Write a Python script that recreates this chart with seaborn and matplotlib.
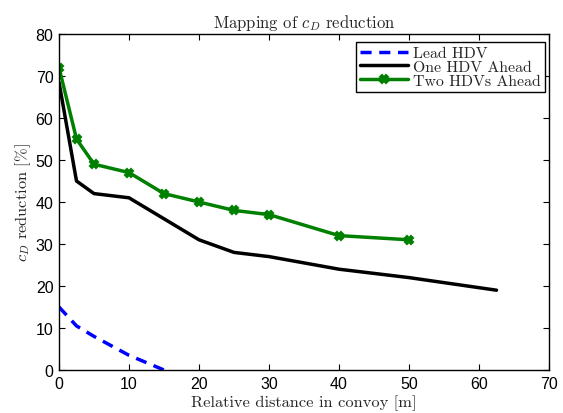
import numpy as np
import pandas as pd
import matplotlib
matplotlib.use("Agg")
import matplotlib.pyplot as plt
import seaborn as sns

# data
lead_x = [0, 2.5, 5, 10, 15]
lead_y = [15, 10.5, 8, 3.5, 0]

one_x = [0, 2.5, 5, 10, 15, 20, 25, 30, 40, 50, 62.5]
one_y = [68.5, 45, 42, 41, 36, 31, 28, 27, 24, 22, 19]

two_x = [0, 2.5, 5, 10, 15, 20, 25, 30, 40, 50]
two_y = [72, 55, 49, 47, 42, 40, 38, 37, 32, 31]

sns.set_style("ticks")
plt.rcParams["font.family"] = ["Liberation Sans", "DejaVu Sans"]
plt.rcParams["mathtext.fontset"] = "cm"

fig = plt.figure(figsize=(5.63, 4.14), dpi=100)
ax = fig.add_axes([59 / 563, 1 - 371 / 414, 490 / 563, 336 / 414])

sns.lineplot(x=lead_x, y=lead_y, ax=ax, color="blue", lw=2.5,
             linestyle=(0, (3.2, 2.2)), label="Lead HDV")
sns.lineplot(x=one_x, y=one_y, ax=ax, color="black", lw=2.5,
             label="One HDV Ahead")
sns.lineplot(x=two_x, y=two_y, ax=ax, color="green", lw=2.5, marker="X",
             markersize=5.5, markeredgewidth=1.5, markeredgecolor="green",
             label="Two HDVs Ahead")

ax.set_xlim(0, 70)
ax.set_ylim(0, 80)
ax.set_xticks(np.arange(0, 71, 10))
ax.set_yticks(np.arange(0, 81, 10))
ax.tick_params(direction="in", top=True, right=True, labelsize=11.5,
               length=4, width=0.8, colors="black", pad=4)
for s in ax.spines.values():
    s.set_visible(True)
    s.set_linewidth(1.0)
    s.set_color("black")

serif = ["cmr10", "DejaVu Serif"]
ax.set_title(r"Mapping of $c_D$ reduction", family=serif, fontsize=12, pad=5)
ax.set_xlabel("Relative distance in convoy [m]", family=serif, fontsize=11.8,
              labelpad=3)
ax.set_ylabel(r"$c_D$ reduction [%]", family=serif, fontsize=11.8, labelpad=2)

leg = ax.legend(loc="upper right", frameon=True, fancybox=False,
                edgecolor="black", framealpha=1, borderpad=0.25,
                borderaxespad=0, labelspacing=-0.02, handlelength=3.0,
                handletextpad=0.35, prop={"family": serif, "size": 11.4},
                bbox_to_anchor=(0.992, 0.976))
leg.get_frame().set_linewidth(1.0)

fig.savefig("out.png", dpi=100)
